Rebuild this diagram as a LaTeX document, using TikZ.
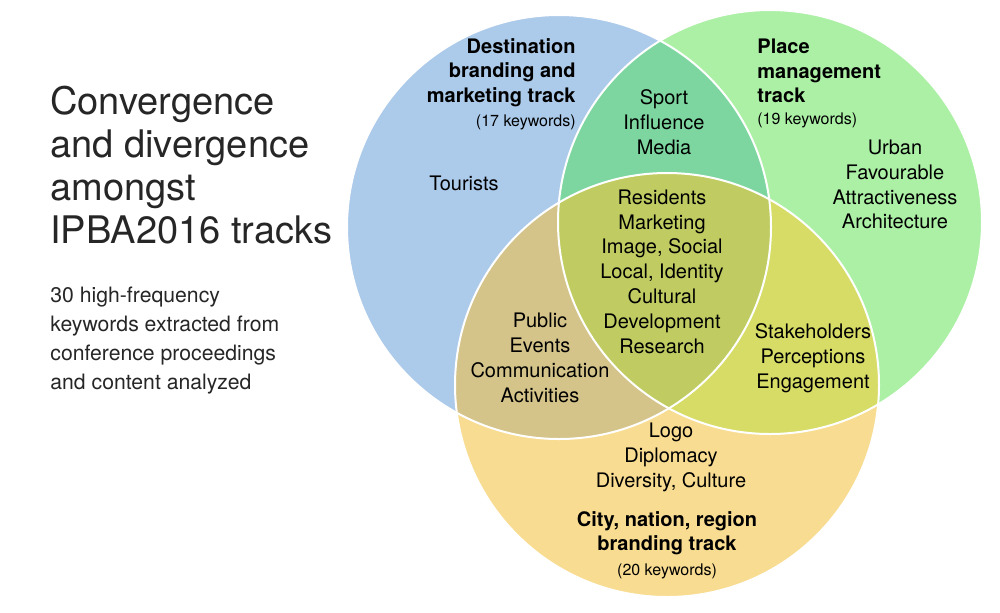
\documentclass[tikz,border=0pt]{standalone}
\usepackage{fontspec}
\setmainfont{TeX Gyre Heros}
\usetikzlibrary{positioning}

\definecolor{bluefill}{RGB}{172,202,234}
\definecolor{greenfill}{RGB}{172,240,166}
\definecolor{yellowfill}{RGB}{248,220,145}
\definecolor{bgfill}{RGB}{125,214,160}
\definecolor{byfill}{RGB}{212,196,138}
\definecolor{gyfill}{RGB}{214,220,102}
\definecolor{allfill}{RGB}{192,204,98}

\begin{document}
\begin{tikzpicture}[x=0.5pt,y=-0.5pt,
    words/.style={align=center,inner sep=0pt,font=\fontsize{10}{12.4}\selectfont},
    track/.style={inner sep=0pt,font=\bfseries\fontsize{10}{12.2}\selectfont},
    count/.style={inner sep=0pt,font=\fontsize{8}{10}\selectfont},
    rim/.style={white,line width=1pt}]
    \useasboundingbox (0,0) rectangle (1000,612);
    \coordinate (cblue)   at (559,227);
    \coordinate (cgreen)  at (770,222);
    \coordinate (cyellow) at (667,385);
    % the three sets
    \fill[bluefill]   (cblue)   circle[radius=106pt];
    \fill[greenfill]  (cgreen)  circle[radius=106pt];
    \fill[yellowfill] (cyellow) circle[radius=106pt];
    % overlaps
    \begin{scope}
        \clip (cblue) circle[radius=106pt];
        \fill[bgfill] (cgreen) circle[radius=106pt];
        \fill[byfill] (cyellow) circle[radius=106pt];
    \end{scope}
    \begin{scope}
        \clip (cgreen) circle[radius=106pt];
        \fill[gyfill] (cyellow) circle[radius=106pt];
        \clip (cblue) circle[radius=106pt];
        \fill[allfill] (cyellow) circle[radius=106pt];
    \end{scope}
    \foreach \c in {cblue,cgreen,cyellow}
        \draw[rim] (\c) circle[radius=106pt];

    % left text
    \node[anchor=west,align=left,inner sep=0pt,text=black!85,
          font=\fontsize{19}{21.5}\selectfont] (title) at (50,165)
          {Convergence\\and divergence\\amongst\\IPBA2016 tracks};
    \node[anchor=west,align=left,inner sep=0pt,text=black!85,
          font=\fontsize{10.6}{14.5}\selectfont] (subtitle) at (50,341)
          {30 high-frequency\\keywords extracted from\\conference proceedings\\and content analyzed};

    % track names
    \node[track,anchor=east,align=right] (dtrack) at (576,72.5)
          {Destination\\branding and\\marketing track};
    \node[count,anchor=east] (dcount) at (576,122) {(17 keywords)};
    \node[track,anchor=west,align=left] (ptrack) at (757,71)
          {Place\\management\\track};
    \node[count,anchor=west] (pcount) at (757,120) {(19 keywords)};
    \node[track,align=center] (ctrack) at (667,533.5)
          {City, nation, region\\branding track};
    \node[count] (ccount) at (667,571) {(20 keywords)};

    % keywords
    \node[words] (tourists) at (464,183) {Tourists};
    \node[words] (sport)    at (664,122) {Sport\\Influence\\Media};
    \node[words] (core)     at (662,271.5)
          {Residents\\Marketing\\Image, Social\\Local, Identity\\Cultural\\Development\\Research};
    \node[words] (urban)    at (895,184.5)
          {Urban\\Favourable\\Attractiveness\\Architecture};
    \node[words] (public)   at (540,358)
          {Public\\Events\\Communication\\Activities};
    \node[words] (stake)    at (813,358)
          {Stakeholders\\Perceptions\\Engagement};
    \node[words] (logo)     at (671,457.5)
          {Logo\\Diplomacy\\Diversity, Culture};
\end{tikzpicture}
\end{document}
